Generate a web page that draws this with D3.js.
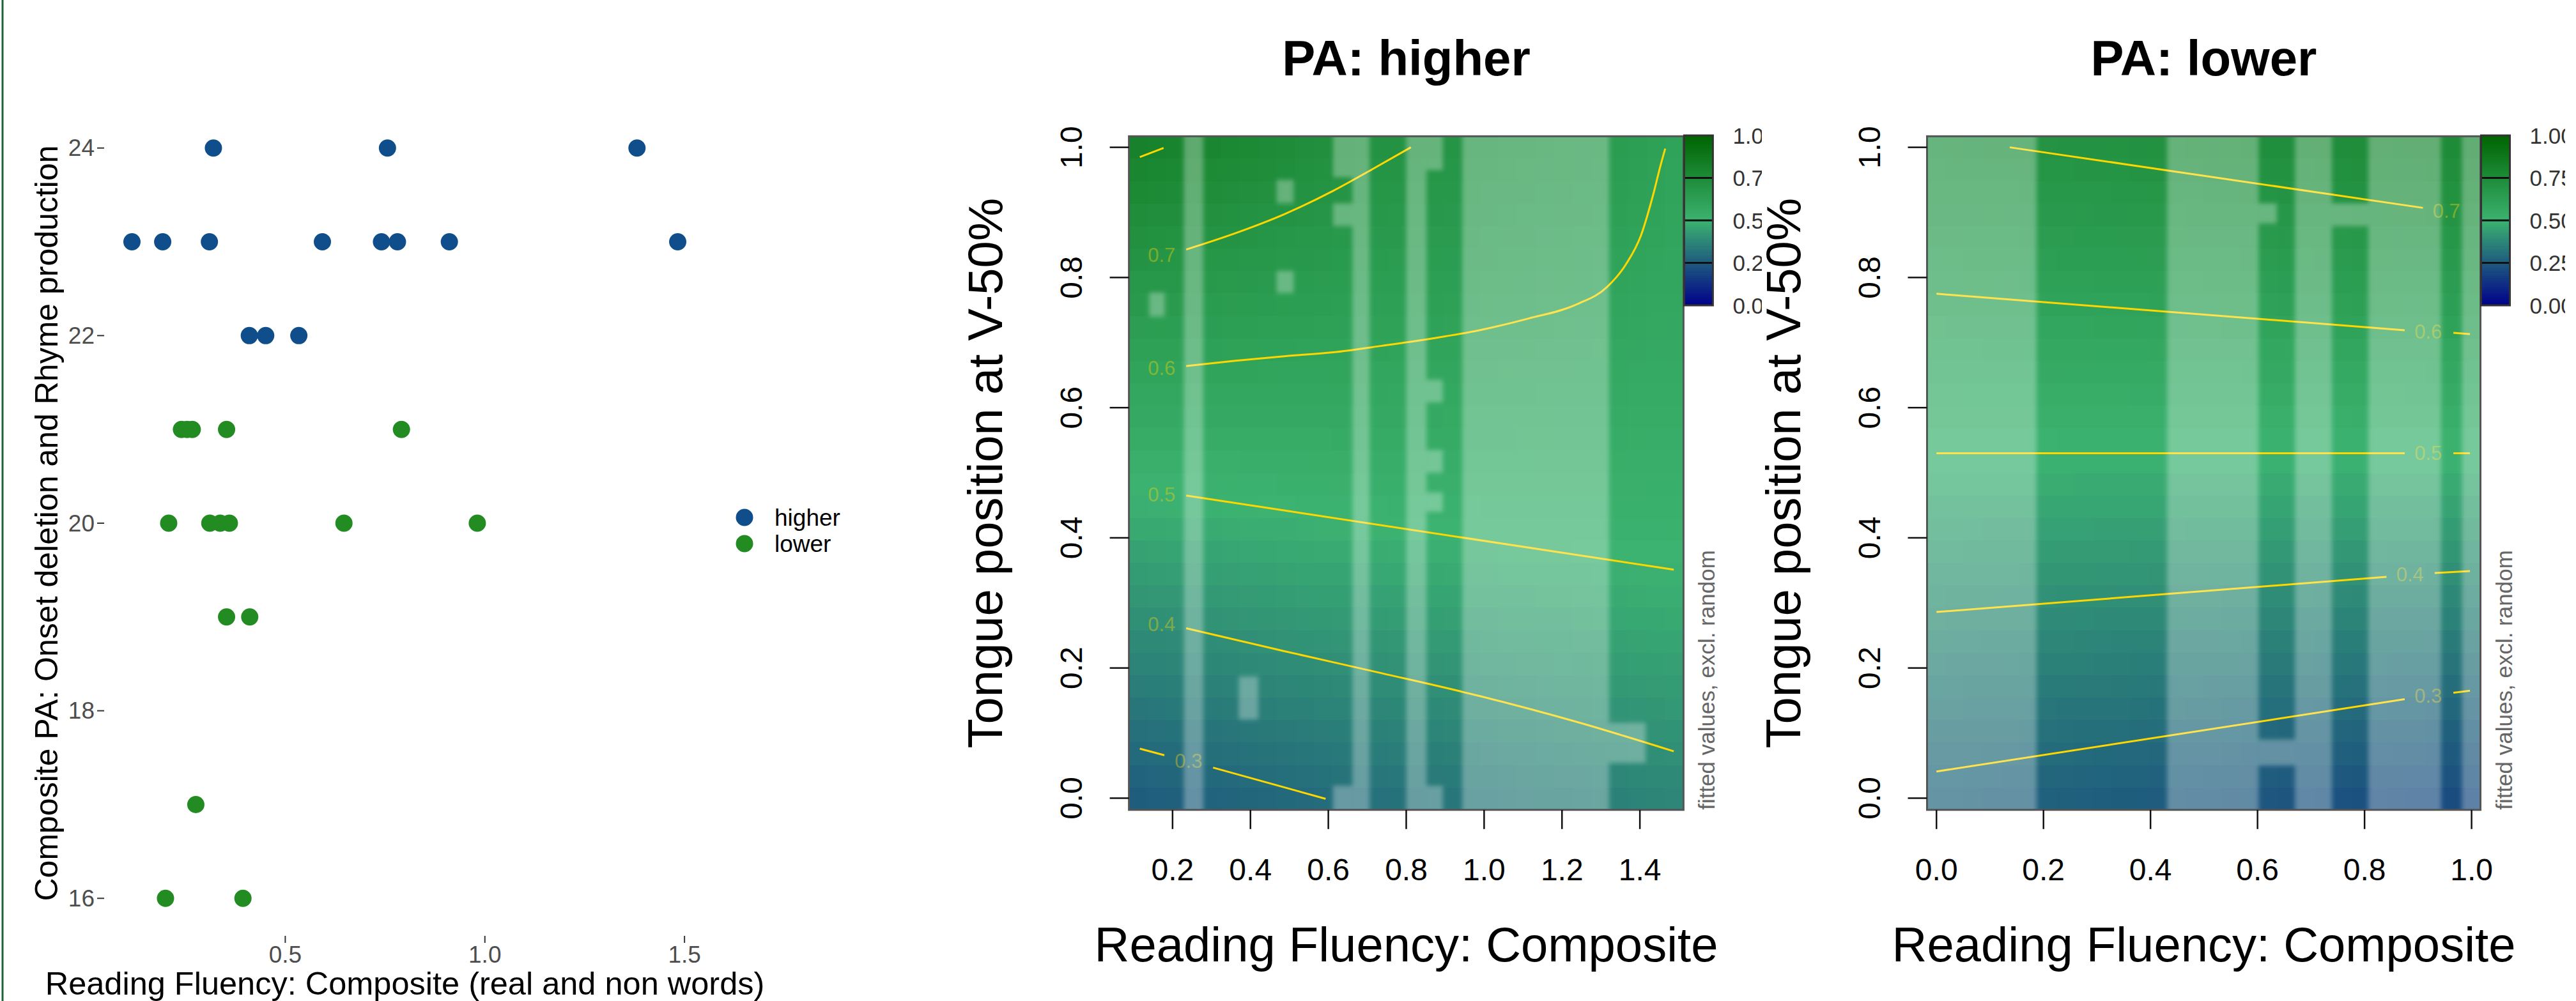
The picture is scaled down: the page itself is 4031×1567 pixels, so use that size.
<!DOCTYPE html>
<html>
<head>
<meta charset="utf-8">
<script src="https://cdn.jsdelivr.net/npm/d3@7"></script>
<style>
  body { margin: 0; background: #fff; }
  svg text { font-family: "Liberation Sans", Arial, sans-serif; }
</style>
</head>
<body>
<svg id="chart" width="4031" height="1567"></svg>
<script>
// ---- scatter: composite PA vs reading fluency ----
const higherPts = [
  [0.320, 24], [0.756, 24], [1.381, 24],
  [0.116, 23], [0.193, 23], [0.310, 23], [0.593, 23], [0.741, 23], [0.781, 23], [0.911, 23], [1.483, 23],
  [0.410, 22], [0.451, 22], [0.534, 22]
];
const lowerPts = [
  [0.240, 21], [0.254, 21], [0.267, 21], [0.353, 21], [0.791, 21],
  [0.208, 20], [0.311, 20], [0.337, 20], [0.360, 20], [0.647, 20], [0.981, 20],
  [0.353, 19], [0.411, 19],
  [0.276, 17],
  [0.200, 16], [0.394, 16]
];
const scatterXTicks = [0.5, 1.0, 1.5];
const scatterYTicks = [16, 18, 20, 22, 24];
const groups = ["higher", "lower"];

// ---- fitted surfaces (value read at y = 0, 0.1 ... 1.0 for each column) ----
const gridRows = [0, 0.1, 0.2, 0.3, 0.4, 0.5, 0.6, 0.7, 0.8, 0.9, 1.0];
const higherCols = [0.1, 0.3, 0.5, 0.7, 0.9, 1.1, 1.3, 1.4, 1.5];
const higherFit = [
  [0.260, 0.310, 0.362, 0.413, 0.464, 0.516, 0.568, 0.623, 0.683, 0.745, 0.810],
  [0.276, 0.325, 0.374, 0.423, 0.471, 0.519, 0.568, 0.618, 0.670, 0.723, 0.783],
  [0.293, 0.341, 0.389, 0.435, 0.481, 0.525, 0.567, 0.609, 0.654, 0.699, 0.743],
  [0.313, 0.357, 0.401, 0.444, 0.490, 0.529, 0.566, 0.603, 0.639, 0.675, 0.711],
  [0.328, 0.371, 0.413, 0.456, 0.498, 0.532, 0.565, 0.597, 0.630, 0.663, 0.696],
  [0.342, 0.383, 0.424, 0.465, 0.504, 0.533, 0.561, 0.590, 0.617, 0.644, 0.672],
  [0.356, 0.395, 0.434, 0.473, 0.508, 0.532, 0.556, 0.581, 0.605, 0.629, 0.653],
  [0.368, 0.404, 0.441, 0.478, 0.508, 0.528, 0.548, 0.568, 0.588, 0.608, 0.628],
  [0.375, 0.411, 0.446, 0.482, 0.509, 0.527, 0.545, 0.563, 0.581, 0.589, 0.597]
];
const lowerCols = [0, 0.5, 1.0];
const lowerFit = [
  [0.283, 0.324, 0.365, 0.406, 0.447, 0.488, 0.529, 0.569, 0.610, 0.651, 0.692],
  [0.251, 0.298, 0.345, 0.392, 0.439, 0.486, 0.533, 0.580, 0.627, 0.674, 0.721],
  [0.210, 0.264, 0.319, 0.374, 0.429, 0.484, 0.538, 0.593, 0.648, 0.703, 0.758]
];

// contour lines (pieces split where the label sits)
const higherContours = [
  { level: "0.8", lines: [[[0.116, 0.985], [0.177, 0.999]]], at: null },
  { level: "0.7", lines: [[[0.235, 0.843], [0.361, 0.868], [0.486, 0.897], [0.612, 0.933], [0.712, 0.966], [0.812, 1.0]]], at: [0.172, 0.834] },
  { level: "0.6", lines: [[[0.235, 0.664], [0.361, 0.672], [0.486, 0.679], [0.612, 0.685], [0.737, 0.695], [0.863, 0.706], [0.988, 0.719],
      [1.114, 0.737], [1.239, 0.759], [1.315, 0.785], [1.365, 0.821], [1.403, 0.865], [1.434, 0.927], [1.453, 0.972], [1.465, 0.998]]], at: [0.172, 0.661] },
  { level: "0.5", lines: [[[0.235, 0.465], [1.487, 0.351]]], at: [0.172, 0.466] },
  { level: "0.4", lines: [[[0.235, 0.261], [0.486, 0.226], [0.737, 0.192], [0.988, 0.157], [1.239, 0.117], [1.487, 0.072]]], at: [0.172, 0.267] },
  { level: "0.3", lines: [[[0.116, 0.076], [0.179, 0.066]], [[0.304, 0.047], [0.593, -0.001]]], at: [0.241, 0.057] }
];
const lowerContours = [
  { level: "0.7", lines: [[[0.137, 1.0], [0.909, 0.907]]], at: [0.953, 0.902] },
  { level: "0.6", lines: [[[0.0, 0.775], [0.875, 0.719]], [[0.966, 0.715], [0.997, 0.713]]], at: [0.919, 0.716] },
  { level: "0.5", lines: [[[0.0, 0.530], [0.875, 0.530]], [[0.966, 0.530], [0.997, 0.530]]], at: [0.919, 0.530] },
  { level: "0.4", lines: [[[0.0, 0.286], [0.841, 0.340]], [[0.931, 0.346], [0.997, 0.349]]], at: [0.885, 0.343] },
  { level: "0.3", lines: [[[0.0, 0.041], [0.875, 0.152]], [[0.966, 0.162], [0.997, 0.165]]], at: [0.919, 0.157] }
];

// areas too far from data, greyed out: [x0, x1, y0, y1]
const higherFar = [
  [0.229, 0.279, -0.1, 1.1], [0.662, 0.706, -0.1, 1.1], [0.800, 0.852, -0.1, 1.1], [0.944, 1.321, -0.1, 1.1],
  [0.612, 0.662, 0.954, 1.1], [0.612, 0.662, 0.879, 0.914], [0.612, 0.662, -0.1, 0.019],
  [0.852, 0.894, 0.965, 1.1], [0.852, 0.894, 0.608, 0.643], [0.852, 0.894, 0.500, 0.535],
  [0.852, 0.894, 0.440, 0.470], [0.852, 0.894, -0.1, 0.019],
  [1.321, 1.415, 0.054, 0.116], [0.467, 0.511, 0.914, 0.950], [0.467, 0.511, 0.776, 0.810],
  [0.140, 0.180, 0.740, 0.777], [0.370, 0.420, 0.121, 0.187]
];
const lowerFar = [
  [-0.1, 0.187, -0.1, 1.1], [0.431, 0.602, -0.1, 1.1], [0.670, 0.739, -0.1, 1.1],
  [0.807, 0.943, -0.1, 1.1], [0.982, 1.1, -0.1, 1.1],
  [0.602, 0.636, 0.883, 0.914], [0.602, 0.670, 0.050, 0.090], [0.739, 0.807, 0.879, 0.914]
];

const higherXTicks = [0.2, 0.4, 0.6, 0.8, 1.0, 1.2, 1.4];
const lowerXTicks = [0, 0.2, 0.4, 0.6, 0.8, 1.0];
const fitYTicks = [0, 0.2, 0.4, 0.6, 0.8, 1.0];
const barTicks = [0, 0.25, 0.5, 0.75, 1.0];

const svg = d3.select('#chart');
const fmt1 = d3.format(".1f");

// slide border on the left
svg.append('rect').attr('x', 2.5).attr('y', 0).attr('width', 3).attr('height', 1567).attr('fill', '#1d6332');

// ================= scatter =================
const sx = d3.scaleLinear().domain([0.048, 1.551]).range([164, 1103]);
const sy = d3.scaleLinear().domain([15.6, 24.4]).range([1465, 173]);
const groupColor = d3.scaleOrdinal().domain(groups).range(['#104E8B', '#228B22']);

const sc = svg.append('g');
sc.selectAll('.yt').data(scatterYTicks).enter().append('line')
    .attr('x1', 152).attr('x2', 163)
    .attr('y1', d => sy(d)).attr('y2', d => sy(d))
    .attr('stroke', '#333').attr('stroke-width', 2);
sc.selectAll('.ytl').data(scatterYTicks).enter().append('text')
    .attr('x', 148).attr('y', d => sy(d))
    .attr('text-anchor', 'end').attr('dominant-baseline', 'central')
    .attr('font-size', 37).attr('fill', '#4d4d4d')
    .text(d => d);
sc.selectAll('.xt').data(scatterXTicks).enter().append('line')
    .attr('x1', d => sx(d)).attr('x2', d => sx(d))
    .attr('y1', 1465).attr('y2', 1476)
    .attr('stroke', '#333').attr('stroke-width', 2);
sc.selectAll('.xtl').data(scatterXTicks).enter().append('text')
    .attr('x', d => sx(d)).attr('y', 1494)
    .attr('text-anchor', 'middle').attr('dominant-baseline', 'central')
    .attr('font-size', 37).attr('fill', '#4d4d4d')
    .text(d => fmt1(d));

const allPts = higherPts.map(p => ({x: p[0], y: p[1], g: 'higher'}))
    .concat(lowerPts.map(p => ({x: p[0], y: p[1], g: 'lower'})));
sc.selectAll('circle.pt').data(allPts).enter().append('circle')
    .attr('cx', d => sx(d.x)).attr('cy', d => sy(d.y)).attr('r', 13.5)
    .attr('fill', d => groupColor(d.g));

sc.append('text')
    .attr('x', sx((0.048 + 1.551) / 2)).attr('y', 1557)
    .attr('text-anchor', 'middle').attr('font-size', 50.5)
    .text('Reading Fluency: Composite (real and non words)');
sc.append('text')
    .attr('transform', `translate(90,${sy(20)}) rotate(-90)`)
    .attr('text-anchor', 'middle').attr('font-size', 50)
    .text('Composite PA: Onset deletion and Rhyme production');

const leg = sc.selectAll('.leg').data(groups).enter().append('g')
    .attr('transform', (d, i) => `translate(1165,${810 + i * 41})`);
leg.append('circle').attr('r', 13.5).attr('fill', d => groupColor(d));
leg.append('text').attr('x', 47).attr('dominant-baseline', 'central')
    .attr('font-size', 37).text(d => d);

// ================= fitted surfaces =================
const fillScale = d3.scaleLinear().domain([0, 0.5, 1])
    .range(['#00008B', '#3CB371', '#006400']).clamp(true);

const defs = svg.append('defs');
defs.append('filter').attr('id', 'soft').attr('x', '-5%').attr('y', '-5%').attr('width', '110%').attr('height', '110%')
  .append('feGaussianBlur').attr('stdDeviation', 3.5);

function fitAt(cols, fit, x, y) {
  const atY = fit.map(c => d3.scaleLinear().domain(gridRows).range(c).clamp(true)(y));
  return d3.scaleLinear().domain(cols).range(atY).clamp(true)(x);
}

function surfacePanel(o) {
  const x = d3.scaleLinear().domain(o.xDomain).range([o.left, o.right]);
  const y = d3.scaleLinear().domain([-0.018, 1.017]).range([o.bottom, o.top]);
  const g = svg.append('g');
  const clipId = 'clip' + o.id;
  defs.append('clipPath').attr('id', clipId).append('rect')
      .attr('x', o.left).attr('y', o.top)
      .attr('width', o.right - o.left).attr('height', o.bottom - o.top);

  // raster cells, 30 x 30 like the image grid
  const n = 30;
  const cw = (o.right - o.left) / n, ch = (o.bottom - o.top) / n;
  const cells = [];
  for (let i = 0; i < n; i++) for (let j = 0; j < n; j++) {
    const cx = x.invert(o.left + (i + 0.5) * cw);
    const cy = y.invert(o.top + (j + 0.5) * ch);
    cells.push({i, j, v: fitAt(o.cols, o.fit, cx, cy)});
  }
  const inner = g.append('g').attr('clip-path', `url(#${clipId})`);
  inner.selectAll('rect.cell').data(cells).enter().append('rect')
      .attr('x', d => o.left + d.i * cw).attr('y', d => o.top + d.j * ch)
      .attr('width', cw + 0.6).attr('height', ch + 0.6)
      .attr('fill', d => fillScale(d.v))
      .attr('shape-rendering', 'crispEdges');

  // contour lines and labels
  const line = d3.line().x(d => x(d[0])).y(d => y(d[1])).curve(d3.curveMonotoneX);
  o.contours.forEach(c => {
    c.lines.forEach(l => inner.append('path').attr('d', line(l))
        .attr('fill', 'none').attr('stroke', '#FFD700').attr('stroke-width', 3));
    if (c.at) inner.append('text').attr('x', x(c.at[0])).attr('y', y(c.at[1]))
        .attr('text-anchor', 'middle').attr('dominant-baseline', 'central')
        .attr('font-size', 31).attr('fill', '#FFD700').attr('fill-opacity', 0.4)
        .text(c.level);
  });

  // greyed areas far from the data
  inner.append('g').attr('filter', 'url(#soft)')
    .selectAll('rect').data(o.far).enter().append('rect')
      .attr('x', d => x(d[0])).attr('width', d => x(d[1]) - x(d[0]))
      .attr('y', d => y(d[3])).attr('height', d => y(d[2]) - y(d[3]))
      .attr('fill', '#fff').attr('fill-opacity', 0.3);

  // box
  g.append('rect').attr('x', o.left).attr('y', o.top)
      .attr('width', o.right - o.left).attr('height', o.bottom - o.top)
      .attr('fill', 'none').attr('stroke', '#555').attr('stroke-width', 3);

  // axes
  g.selectAll('.xt').data(o.xTicks).enter().append('line')
      .attr('x1', d => x(d)).attr('x2', d => x(d))
      .attr('y1', o.bottom).attr('y2', o.bottom + 30)
      .attr('stroke', '#111').attr('stroke-width', 2.5);
  g.selectAll('.xtl').data(o.xTicks).enter().append('text')
      .attr('x', d => x(d)).attr('y', 1361)
      .attr('text-anchor', 'middle').attr('dominant-baseline', 'central')
      .attr('font-size', 48).text(d => fmt1(d));
  g.selectAll('.yt').data(fitYTicks).enter().append('line')
      .attr('x1', o.left - 30).attr('x2', o.left)
      .attr('y1', d => y(d)).attr('y2', d => y(d))
      .attr('stroke', '#111').attr('stroke-width', 2.5);
  g.selectAll('.ytl').data(fitYTicks).enter().append('text')
      .attr('transform', d => `translate(${o.left - 90},${y(d)}) rotate(-90)`)
      .attr('text-anchor', 'middle').attr('dominant-baseline', 'central')
      .attr('font-size', 48).text(d => fmt1(d));

  g.append('text').attr('x', (o.left + o.right) / 2).attr('y', 1505)
      .attr('text-anchor', 'middle').attr('font-size', 76)
      .text('Reading Fluency: Composite');
  g.append('text').attr('transform', `translate(${o.left - 199},${(o.top + o.bottom) / 2}) rotate(-90)`)
      .attr('text-anchor', 'middle').attr('font-size', 76)
      .text('Tongue position at V-50%');
  g.append('text').attr('x', (o.left + o.right) / 2).attr('y', 118)
      .attr('text-anchor', 'middle').attr('font-size', 78).attr('font-weight', 'bold')
      .text(o.title);
  g.append('text').attr('transform', `translate(${o.right + 49},${o.bottom}) rotate(-90)`)
      .attr('font-size', 35).attr('fill', '#666')
      .text('fitted values, excl. random');

  // colour key
  const bx = o.right + 1, bw = 45;
  const by = d3.scaleLinear().domain([0, 1]).range([478, 212]);
  const slices = d3.range(0, 1, 1 / 80);
  g.selectAll('.slice').data(slices).enter().append('rect')
      .attr('x', bx).attr('width', bw)
      .attr('y', d => by(d + 1 / 80)).attr('height', by(0) - by(1 / 80) + 0.5)
      .attr('fill', d => fillScale(d + 1 / 160))
      .attr('shape-rendering', 'crispEdges');
  g.selectAll('.sep').data([0.25, 0.5, 0.75]).enter().append('line')
      .attr('x1', bx).attr('x2', bx + bw).attr('y1', d => by(d)).attr('y2', d => by(d))
      .attr('stroke', '#111').attr('stroke-width', 3);
  g.append('rect').attr('x', bx).attr('y', by(1)).attr('width', bw).attr('height', by(0) - by(1))
      .attr('fill', 'none').attr('stroke', '#333').attr('stroke-width', 3);
  const lclip = 'lclip' + o.id;
  defs.append('clipPath').attr('id', lclip).append('rect')
      .attr('x', bx + bw).attr('y', 150).attr('width', o.labelClip - bx - bw).attr('height', 400);
  g.append('g').attr('clip-path', `url(#${lclip})`)
    .selectAll('text').data(barTicks).enter().append('text')
      .attr('x', bx + bw + 31).attr('y', d => by(d))
      .attr('dominant-baseline', 'central').attr('font-size', 35).attr('fill', '#333')
      .text(d => d3.format(".2f")(d));
}

surfacePanel({
  id: 'h', title: 'PA: higher',
  left: 1766.6, right: 2634.4, top: 213.3, bottom: 1267.8,
  xDomain: [0.088, 1.512], xTicks: higherXTicks,
  cols: higherCols, fit: higherFit, contours: higherContours, far: higherFar,
  labelClip: 2757
});
surfacePanel({
  id: 'l', title: 'PA: lower',
  left: 3015.5, right: 3881.5, top: 213.3, bottom: 1267.8,
  xDomain: [-0.0176, 1.0166], xTicks: lowerXTicks,
  cols: lowerCols, fit: lowerFit, contours: lowerContours, far: lowerFar,
  labelClip: 4014
});
</script>
</body>
</html>
